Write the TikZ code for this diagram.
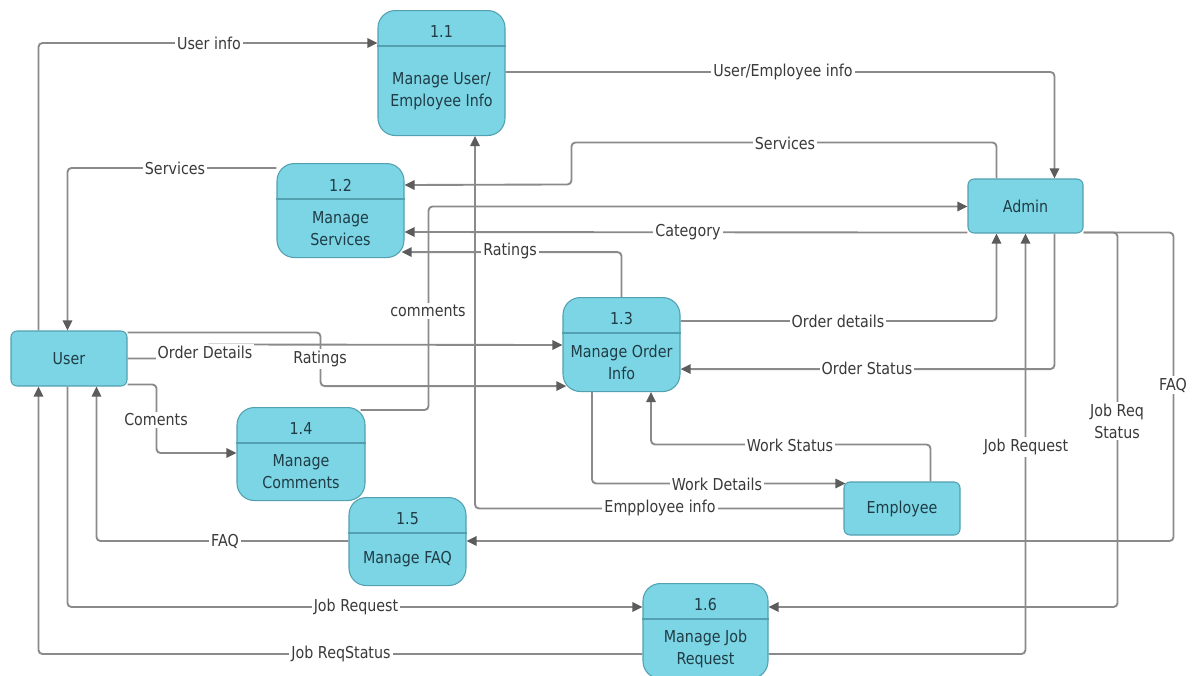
\documentclass[tikz,border=0pt]{standalone}
\usepackage{fontspec}
\setmainfont[FakeStretch=0.87]{DejaVu Sans}
\usetikzlibrary{arrows.meta,calc,backgrounds}

\definecolor{boxfill}{RGB}{123,213,228}
\definecolor{boxline}{RGB}{82,160,176}
\definecolor{flow}{RGB}{138,138,138}
\definecolor{tipcol}{RGB}{92,92,92}
\definecolor{boxtext}{RGB}{32,60,70}
\definecolor{flowtext}{RGB}{58,58,58}

% one pixel of the drawing grid
\def\u{0.75pt}

% process box: name, centre x, top y, width, height, number, title
\newcommand\procbox[7]{%
  \node[proc, minimum width=#4*\u, minimum height=#5*\u, anchor=north] (#1) at (#2,#3) {};
  \draw[divline] ([yshift=-36*\u]#1.north west) -- ([yshift=-36*\u]#1.north east);
  \node[boxlabel] (#1-num) at ([yshift=-22*\u]#1.north) {#6};
  \node[boxlabel, align=center] (#1-txt) at ($(#1.south)!0.5!([yshift=-36*\u]#1.north)$) {#7};
}

\begin{document}
\begin{tikzpicture}[x=0.75pt, y=-0.75pt,
  font=\fontsize{12.3}{16.5}\selectfont,
  proc/.style={draw=boxline, line width=0.8pt, fill=boxfill, rounded corners=13pt, inner sep=0pt},
  entity/.style={draw=boxline, line width=0.8pt, fill=boxfill, rounded corners=4.5pt,
    text=boxtext, inner sep=0pt},
  divline/.style={draw=boxline, line width=0.8pt},
  boxlabel/.style={text=boxtext, inner sep=0pt},
  flowline/.style={draw=flow, line width=1.4pt, rounded corners=3pt,
    -{Triangle[length=7.5pt, width=7pt, color=tipcol]}},
  flowlabel/.style={fill=white, text=flowtext, inner sep=1.5pt, align=center}
]
\useasboundingbox (0,0) rectangle (1196,675);

% external entities
\node[entity, minimum width=116*\u, minimum height=55*\u] (user) at (69,358.5) {User};
\node[entity, minimum width=115*\u, minimum height=54*\u] (admin) at (1025.5,206) {Admin};
\node[entity, minimum width=116*\u, minimum height=53*\u] (employee) at (902,508.5) {Employee};

% processes
\procbox{p11}{441.5}{10}{127}{125}{1.1}{Manage User/\\Employee Info}
\procbox{p12}{340.5}{163}{127}{94}{1.2}{Manage\\Services}
\procbox{p13}{621.5}{297}{117}{94}{1.3}{Manage Order\\Info}
\procbox{p14}{301}{407}{128}{93}{1.4}{Manage\\Comments}
\procbox{p15}{407.5}{497}{117}{88}{1.5}{Manage FAQ}
\procbox{p16}{705.5}{583}{125}{95}{1.6}{Manage Job\\Request}

% data flows
\begin{scope}[on background layer]
  \draw[flowline] ([xshift=28*\u]user.north west) |- ([yshift=-33*\u]p11.north west);
  \draw[flowline] ([yshift=-62*\u]p11.north east) -| ([xshift=87*\u]admin.north west);
  \draw[flowline] ([xshift=29*\u]admin.north west) -- ++(0,-36) -| ++(-425,42)
                  -- ([yshift=-22*\u]p12.north east);
  \draw[flowline] ([yshift=-5*\u]p12.north west) -| ([xshift=57*\u]user.north west);
  \draw[flowline] ([xshift=-5*\u, yshift=-3*\u]p14.north east) -- ++(68,0)
                  |- ([yshift=-28*\u]admin.north west);
  \draw[flowline] ([yshift=1*\u]admin.south west) -- ([yshift=-69*\u]p12.north east);
  \draw[flowline] (p13.north) |- ([xshift=-3*\u, yshift=6*\u]p12.south east);
  \draw[flowline] ([yshift=-24*\u]p13.north east) -| ([xshift=29*\u]admin.south west);
  \draw[flowline] ([xshift=87*\u]admin.south west) |- ([yshift=23*\u]p13.south east);
  \draw[flowline] ([yshift=-71*\u]p16.north east) -| ([xshift=58*\u]admin.south west);
  \draw[flowline] ([xshift=87*\u]employee.north west) -- ++(0,-37)
                  -| ([xshift=29.5*\u]p13.south);
  \draw[flowline] ([xshift=-29.5*\u]p13.south) |- ([xshift=2*\u, yshift=-2*\u]employee.north west);
  \draw[flowline] (employee.west) -| ([xshift=33.5*\u]p11.south);
  \draw[flowline] ([yshift=-28*\u]user.north east) -- ++(78,0) -- ++(0,-14)
                  -- ([yshift=-48*\u]p13.north west);
  \draw[flowline] ([yshift=-2*\u]user.north east) -- ++(193,0)
                  |- ([xshift=4*\u, yshift=6*\u]p13.south west);
  \draw[flowline] ([yshift=2*\u]user.south east) -- ++(29,0) |- ([yshift=-46*\u]p14.north west);
  \draw[flowline] ([yshift=-44*\u]p15.north west) -| ([xshift=86*\u]user.south west);
  \draw[flowline] ([xshift=57*\u]user.south west) |- ([yshift=-24*\u]p16.north west);
  \draw[flowline] ([yshift=-71*\u]p16.north west) -| ([xshift=28*\u]user.south west);
  \draw[flowline] ([yshift=1*\u]admin.south east) -- ++(34,0) |- ([yshift=-24*\u]p16.north east);
  \draw[flowline] ([yshift=1*\u]admin.south east) -- ++(90,0) |- ([yshift=-44*\u]p15.north east);
\end{scope}

% flow labels
\node[flowlabel] (l1)  at (209,43)   {User info};
\node[flowlabel] (l2)  at (783,72)   {User/Employee info};
\node[flowlabel] (l3)  at (785,143)  {Services};
\node[flowlabel] (l4)  at (175,168)  {Services};
\node[flowlabel] (l5)  at (688,232)  {Category};
\node[flowlabel] (l6)  at (510,251)  {Ratings};
\node[flowlabel] (l7)  at (428,311)  {comments};
\node[flowlabel] (l8)  at (838,321)  {Order details};
\node[flowlabel] (l9)  at (867,368)  {Order Status};
\node[flowlabel] (l10) at (205,352)  {Order Details};
\node[flowlabel] (l11) at (320,359)  {Ratings};
\node[flowlabel] (l12) at (156,420)  {Coments};
\node[flowlabel] (l13) at (790,445)  {Work Status};
\node[flowlabel] (l14) at (717,484)  {Work Details};
\node[flowlabel] (l15) at (660,508)  {Empployee info};
\node[flowlabel] (l16) at (225,541)  {FAQ};
\node[flowlabel] (l17) at (1173,385) {FAQ};
\node[flowlabel] (l18) at (1117,421) {Job Req\\Status};
\node[flowlabel] (l19) at (1026,447) {Job Request};
\node[flowlabel] (l20) at (356,607)  {Job Request};
\node[flowlabel] (l21) at (341,654)  {Job ReqStatus};
\end{tikzpicture}
\end{document}
